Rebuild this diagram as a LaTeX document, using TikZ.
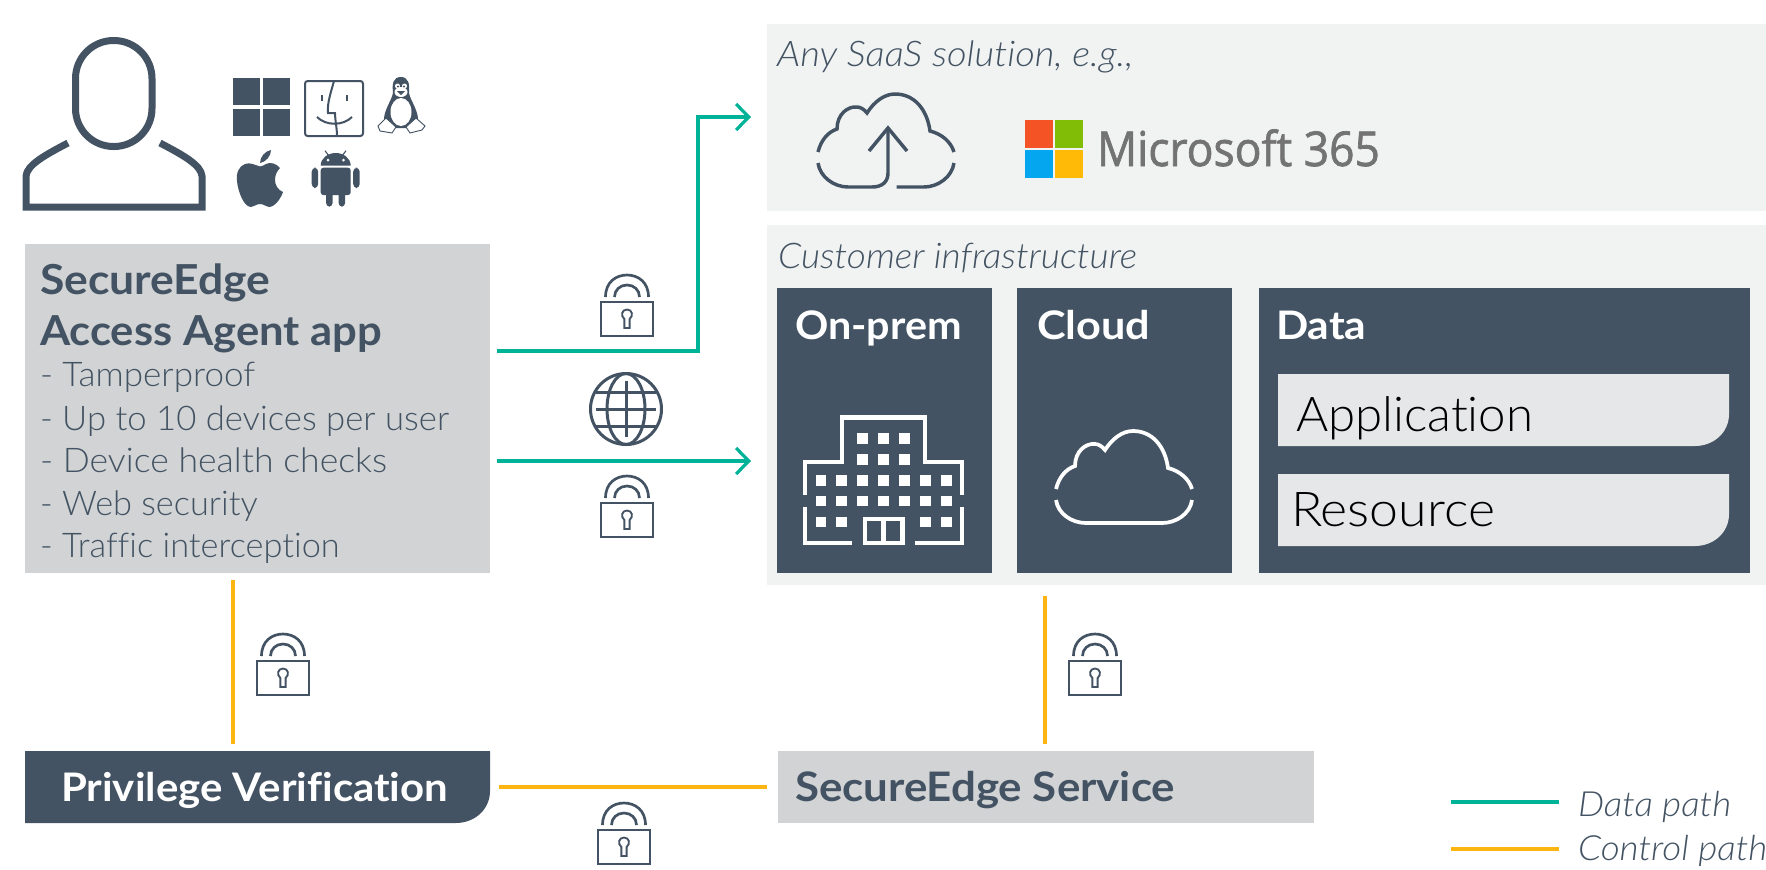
\documentclass[tikz,border=0pt]{standalone}
\usepackage{fontspec}
\usepackage{graphicx}
\setmainfont{Lato}[Ligatures=NoCommon]
\newfontfamily\lightf{Lato Light}[Ligatures=NoCommon]
\newfontfamily\lightif{Lato Light Italic}[Ligatures=NoCommon]
\newfontfamily\msf{Open Sans}[FakeBold=1.5]
\usetikzlibrary{arrows.meta}
\definecolor{slate}{HTML}{435363}
\definecolor{boxgray}{HTML}{D1D3D4}
\definecolor{panel}{HTML}{F1F3F2}
\definecolor{tealc}{HTML}{00B398}
\definecolor{amber}{HTML}{FFB511}
\definecolor{lightbox}{HTML}{E6E7E8}
\definecolor{msgray}{HTML}{737373}
\newcommand{\pxbox}[6]{\node[#6,inner sep=0pt,outer sep=0pt,minimum width={(#4-#2)*0.75pt},minimum height={(#5-#3)*0.75pt}] (#1) at ({(#2+#4)/2},{(#3+#5)/2}) {};}
\newcommand{\fsz}[1]{\fontsize{#1}{#1}\selectfont}
\newcommand{\sx}[2]{\scalebox{#1}[1]{#2}}
\tikzset{
  txt/.style={anchor=base west,inner sep=0pt,outer sep=0pt},
  datal/.style={tealc,line width=2.4pt},
  ctrll/.style={amber,line width=2.4pt},
  barb/.style={-{Straight Barb[length=9.5pt,width=19.5pt,line width=2.4pt]}},
  iconl/.style={slate,line width=2.6pt},
  whitel/.style={white,line width=2.8pt},
  lockicon/.pic={
    \draw[slate,line width=2pt] (-26,0) rectangle (26,34);
    \draw[slate,line width=2pt] (-21.5,-5) .. controls (-21.5,-20) and (-11,-27) .. (0,-27) .. controls (11,-27) and (21.5,-20) .. (21.5,-5);
    \draw[slate,line width=2pt] (-12.5,-5) .. controls (-12.5,-12) and (-7,-17) .. (0,-17) .. controls (7,-17) and (12.5,-12) .. (12.5,-5);
    \draw[slate,line width=1.4pt] (-2.6,26) -- (2.6,26) -- (2.6,17) .. controls (6.5,14) and (5.5,7.5) .. (0,7.5) .. controls (-5.5,7.5) and (-6.5,14) .. (-2.6,17) -- cycle;
  },
  cloudtop/.pic={
    \draw[pic actions,line cap=butt] (-68,58) .. controls (-65,46) and (-58,38) .. (-49,35) .. controls (-49,20) and (-38,12) .. (-29,13) .. controls (-26,13) and (-22,15) .. (-19,19) .. controls (-12,8) and (-2,0) .. (9,0) .. controls (28,0) and (41,15) .. (44,37) .. controls (56,40) and (65,48) .. (68,58);
  },
}
\begin{document}
\begin{tikzpicture}[x=0.75pt,y=-0.75pt]
\useasboundingbox (0,0) rectangle (1766,869);
\fill[white] (0,0) rectangle (1766,869);
% panels
\pxbox{saas}{767}{24}{1766}{211}{fill=panel}
\pxbox{infra}{767}{225}{1766}{585}{fill=panel}
\pxbox{onprem}{777}{288}{992}{573}{fill=slate}
\pxbox{cloud}{1017}{288}{1232}{573}{fill=slate}
\pxbox{data}{1259}{288}{1750}{573}{fill=slate}
\pxbox{agent}{25}{244}{490}{573}{fill=boxgray}
\pxbox{service}{778}{751}{1314}{823}{fill=boxgray}
% cut-corner boxes
\fill[lightbox] (1278,374) -- (1729,374) -- (1729,414) .. controls (1729,433) and (1713,446) .. (1695,446) -- (1278,446) -- cycle;
\fill[lightbox] (1278,474) -- (1729,474) -- (1729,514) .. controls (1729,533) and (1713,546) .. (1695,546) -- (1278,546) -- cycle;
\fill[slate] (25,751) -- (490,751) -- (490,791) .. controls (490,810) and (474,823) .. (456,823) -- (25,823) -- cycle;
\pxbox{application}{1278}{374}{1729}{446}{}
\pxbox{resource}{1278}{474}{1729}{546}{}
\pxbox{priv}{25}{751}{490}{823}{}
% texts
\node[txt,text=slate] (t1) at (777,66) {\lightif\fsz{26.5}\sx{1.08}{Any SaaS solution, e.g.,}};
\node[txt,text=slate] (t2) at (778,268) {\lightif\fsz{26.5}\sx{1.05}{Customer infrastructure}};
\node[txt,text=white] (t3) at (795,339) {\bfseries\fsz{29.5}\sx{1.05}{On-prem}};
\node[txt,text=white] (t4) at (1037,339) {\bfseries\fsz{29.5}\sx{1.1}{Cloud}};
\node[txt,text=white] (t5) at (1276,339) {\bfseries\fsz{29.5}\sx{1.08}{Data}};
\node[txt,text=black] (t6) at (1296,431) {\lightf\fsz{36}\sx{1.025}{Application}};
\node[txt,text=black] (t7) at (1291,526) {\lightf\fsz{36}\sx{1.08}{Resource}};
\node[txt,text=slate] (t8) at (40,294) {\bfseries\fsz{31}\sx{1.076}{SecureEdge}};
\node[txt,text=slate] (t9) at (40,345) {\bfseries\fsz{31}\sx{1.054}{Access Agent app}};
\node[txt,text=slate] (t10) at (40,386) {\lightf\fsz{25.5}\sx{1.03}{- Tamperproof}};
\node[txt,text=slate] (t11) at (40,430) {\lightf\fsz{25.5}\sx{1.02}{- Up to 10 devices per user}};
\node[txt,text=slate] (t12) at (40,472) {\lightf\fsz{25.5}\sx{1.048}{- Device health checks}};
\node[txt,text=slate] (t13) at (40,515) {\lightf\fsz{25.5}\sx{1.01}{- Web security}};
\node[txt,text=slate] (t14) at (40,557) {\lightf\fsz{25.5}\sx{1.01}{- Traffic interception}};
\node[txt,text=white] (t15) at (61,801) {\bfseries\fsz{29.5}\sx{1.066}{Privilege Verification}};
\node[txt,text=slate] (t16) at (795,801) {\bfseries\fsz{30.5}\sx{1.078}{SecureEdge Service}};
\node[txt,text=slate] (t17) at (1578,816) {\lightif\fsz{26}\sx{1.065}{Data path}};
\node[txt,text=slate] (t18) at (1578,860) {\lightif\fsz{26}\sx{1.065}{Control path}};
\node[txt,text=msgray] (t19) at (1097,166) {\msf\fsz{36}\sx{0.925}{Microsoft 365}};
% connectors
\coordinate (bend) at (698,351);
\coordinate (topin) at (767,117);
\coordinate (midy) at (767,461);
\coordinate (yl) at (233,660);
\coordinate (yr) at (1045,660);
\coordinate (yh) at (640,787);
\draw[datal,barb,shorten <=5.25pt,shorten >=12pt] (agent.east |- bend) -- (bend) |- (saas.west |- topin);
\draw[datal,barb,shorten <=5.25pt,shorten >=12pt] (agent.east |- midy) -- (infra.west |- midy);
\draw[ctrll,shorten <=5.25pt,shorten >=5.25pt] (agent.south -| yl) -- (priv.north -| yl);
\draw[ctrll,shorten <=8.5pt,shorten >=5.25pt] (infra.south -| yr) -- (service.north -| yr);
\draw[ctrll,shorten <=7pt,shorten >=8pt] (priv.east |- yh) -- (service.west |- yh);
% legend
\coordinate (lg1a) at (1451,802);
\coordinate (lg1b) at (1559,802);
\coordinate (lg2a) at (1451,849);
\coordinate (lg2b) at (1559,849);
\draw[datal] (lg1a) -- (lg1b);
\draw[ctrll] (lg2a) -- (lg2b);
% locks
\pic at (627,302) {lockicon};
\pic at (627,503) {lockicon};
\pic at (283,661) {lockicon};
\pic at (1095,661) {lockicon};
\pic at (624,830) {lockicon};
% globe
\begin{scope}[shift={(626,409)},slate,line width=2.25pt]
  \draw (0,0) circle [radius=35.5];
  \draw (0,0) ellipse [x radius=19,y radius=35.5];
  \draw (-30,-17) -- (30,-17);
  \draw (-30,17) -- (30,17);
  \draw (-30,0) -- (30,0);
  \draw (0,-28) -- (0,28);
\end{scope}
% user
\draw[slate,line width=5.25pt,rounded corners=28.5pt] (75.5,40.5) rectangle (152,146.5);
\draw[slate,line width=5.25pt] (68,143) .. controls (45,155) and (27,165) .. (26,176) -- (26,207) -- (202,207) -- (202,176) .. controls (201,165) and (183,155) .. (160,143);
% windows
\fill[slate] (233,78) rectangle (260,105);
\fill[slate] (263,78) rectangle (290,105);
\fill[slate] (233,109) rectangle (260,136);
\fill[slate] (263,109) rectangle (290,136);
% finder
\draw[slate,line width=1.5pt,rounded corners=2pt] (305,81) rectangle (363,136);
\draw[slate,line width=1.5pt] (334,81) .. controls (331,92) and (327,103) .. (328,113) -- (335,113) .. controls (335,120) and (337,128) .. (337,136);
\draw[slate,line width=1.5pt] (317,117) .. controls (326,126) and (343,126) .. (352,117);
\fill[slate] (320.8,95) rectangle (323.2,101);
\fill[slate] (345.8,95) rectangle (348.2,101);
% penguin
\fill[slate] (401,77) .. controls (393,77) and (392,84) .. (393,92) .. controls (393,98) and (385,108) .. (384,118) .. controls (384,124) and (388,128) .. (392,128) -- (410,128) .. controls (414,128) and (418,124) .. (418,118) .. controls (417,108) and (409,98) .. (409,92) .. controls (410,84) and (408,77) .. (401,77) -- cycle;
\fill[white] (401,112) ellipse [x radius=10.5,y radius=14];
\fill[white] (401,92) ellipse [x radius=6.5,y radius=5];
\fill[white] (397.5,86) circle [radius=2.5];
\fill[white] (404.5,86) circle [radius=2.5];
\fill[slate] (398,86.5) circle [radius=1.1];
\fill[slate] (404,86.5) circle [radius=1.1];
\fill[slate] (397,91) -- (405,91) -- (401,95) -- cycle;
\draw[slate,fill=white,line width=0.7pt] (386,118) -- (378,126) -- (380,131) -- (392,133) -- (396,127) -- cycle;
\draw[slate,fill=white,line width=0.7pt] (416,118) -- (425,126) -- (422,130) -- (410,133) -- (406,127) -- cycle;
% apple
\fill[slate] (260,166.5) .. controls (255,165) and (250,162) .. (245,164) .. controls (239,166) and (236,173) .. (237,181) .. controls (238,192) and (244,207) .. (251,207) .. controls (254,207) and (256,204) .. (260,204) .. controls (264,204) and (266,207) .. (269,207) .. controls (275,207) and (281,198) .. (283,192) .. controls (278,190) and (275,185) .. (275,180) .. controls (275,175) and (277,171) .. (280,168) .. controls (276,163) and (270,162) .. (266,164) .. controls (264,165) and (262,166.5) .. (260,166.5) -- cycle;
\fill[slate] (260,163) .. controls (260,157) and (265,151) .. (271,150) .. controls (271,156) and (266,162) .. (260,163) -- cycle;
% android
\fill[slate] (320.7,165.7) .. controls (320.7,158) and (328,153) .. (335.7,153) .. controls (343.4,153) and (350.7,158) .. (350.7,165.7) -- cycle;
\fill[slate,rounded corners=2pt] (320.7,167.7) -- (350.7,167.7) -- (350.7,195) -- (320.7,195) -- cycle;
\fill[slate,rounded corners=3pt] (311.7,167.7) rectangle (318.2,188);
\fill[slate,rounded corners=3pt] (353.2,167.7) rectangle (359.7,188);
\fill[slate,rounded corners=3pt] (326,190) rectangle (332.7,206.7);
\fill[slate,rounded corners=3pt] (338.5,190) rectangle (345.2,206.7);
\draw[slate,line width=0.8pt] (325,150.7) -- (329,156);
\draw[slate,line width=0.8pt] (346,150.7) -- (342,156);
\fill[white] (328,160) circle [radius=1.5];
\fill[white] (343.5,160) circle [radius=1.5];
% upload cloud
\pic[iconl] at (886,94) {cloudtop};
\draw[iconl] (818,163) .. controls (820,177) and (834,187) .. (848,187) -- (872,187) .. controls (882,187) and (888,182) .. (888,173) -- (888,130);
\draw[iconl] (869,151) -- (888,128) -- (907,151);
\draw[iconl] (896.5,187) -- (924,187) .. controls (938,187) and (952,177) .. (954,163);
% ms logo
\fill[fill={rgb,255:red,243;green,83;blue,37}] (1025,120) rectangle (1053,148);
\fill[fill={rgb,255:red,129;green,188;blue,6}] (1055,120) rectangle (1083,148);
\fill[fill={rgb,255:red,5;green,166;blue,240}] (1025,150) rectangle (1053,178);
\fill[fill={rgb,255:red,255;green,186;blue,8}] (1055,150) rectangle (1083,178);
% white cloud
\pic[whitel] at (1124,431) {cloudtop};
\draw[whitel] (1056,500) .. controls (1058,514) and (1072,523) .. (1086,523) -- (1162,523) .. controls (1176,523) and (1190,514) .. (1192,500);
% building
\begin{scope}[white,line width=3.6pt]
  \draw (805,495) -- (805,462) -- (842,462) -- (842,417.5) -- (925,417.5) -- (925,462) -- (962,462) -- (962,495);
  \draw (805,507) -- (805,543) -- (852,543);
  \draw (962,507) -- (962,543) -- (915,543);
  \draw (865,519) rectangle (902.7,543);
  \draw (883.5,519) -- (883.5,543);
\end{scope}
\foreach \yy/\xlist in {438.7/{862.7,883.3,904.3},459.3/{862.7,883.3,904.3},480.3/{821,841.7,862.7,883.3,904.3,925.3,946.3},501/{821,841.7,862.7,883.3,904.3,925.3,946.3},522/{821,841.7,925.3,946.3}}{
  \foreach \xx in \xlist {\fill[white] (\xx-5.25,\yy-5.25) rectangle (\xx+5.25,\yy+5.25);}
}
\end{tikzpicture}
\end{document}
